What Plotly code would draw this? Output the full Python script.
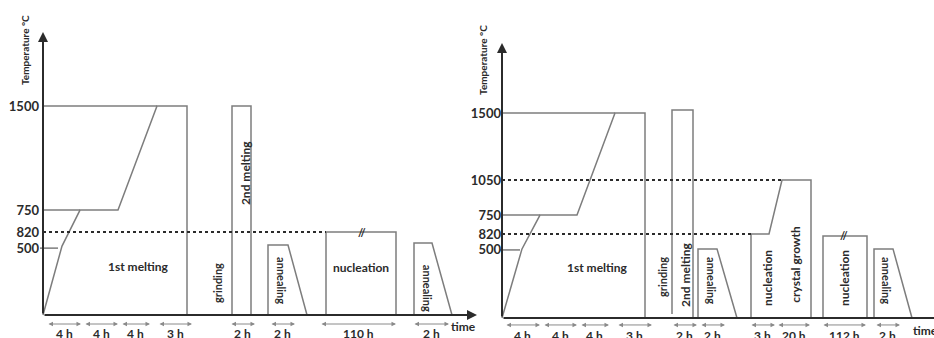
import plotly.graph_objects as go

# Schematic heat-treatment profiles (two panels).
# x = schematic time position, y = schematic temperature height (1.0 = 1500 °C level)

# ---------- left panel ----------
L_TICK_Y = [1.0, 0.502, 0.397, 0.32]
L_TICK_TEXT = ["1500", "750", "820", "500"]

L_MELT1_X = [0, 19, 37, 75, 114, 144, 144]
L_MELT1_Y = [0, 0.33, 0.502, 0.502, 1.0, 1.0, 0]
L_TOP_X, L_TOP_Y = [0, 114], [1.0, 1.0]
L_750_X, L_750_Y = [0, 37], [0.502, 0.502]
L_500_X, L_500_Y = [-3, 15], [0.32, 0.32]
L_MELT2_X, L_MELT2_Y = [189, 189, 208, 208], [0, 1.0, 1.0, 0]
L_ANN1_X, L_ANN1_Y = [225, 225, 245, 264], [0, 0.335, 0.335, 0]
L_NUC_X, L_NUC_Y = [283, 283, 353, 353], [0, 0.397, 0.397, 0]
L_ANN2_X, L_ANN2_Y = [371, 371, 389, 409], [0, 0.344, 0.344, 0]
L_DOT_X, L_DOT_Y = [0, 283], [0.397, 0.397]

L_SPAN_START = [4, 41, 78, 115, 187, 227, 277, 370]
L_SPAN_END = [38, 75, 107, 149, 212, 252, 353, 406]
L_SPAN_TEXT = ["4 h", "4 h", "4 h", "3 h", "2 h", "2 h", "110 h", "2 h"]

L_LABELS = ["1st melting", "grinding", "2nd melting", "annealing", "nucleation", "annealing", "//"]
L_LABEL_X = [95, 174, 202, 239, 318, 384, 319]
L_LABEL_Y = [0.234, 0.153, 0.679, 0.167, 0.225, 0.13, 0.397]
L_LABEL_ANGLE = [0, -90, -90, 90, 0, 90, 0]

# ---------- right panel ----------
R_TICK_Y = [1.0, 0.673, 0.502, 0.41, 0.332]
R_TICK_TEXT = ["1500", "1050", "750", "820", "500"]

R_MELT1_X = [0, 20, 38, 75, 113, 143, 143]
R_MELT1_Y = [0, 0.337, 0.502, 0.502, 1.0, 1.0, 0]
R_TOP_X, R_TOP_Y = [0, 113], [1.0, 1.0]
R_750_X, R_750_Y = [0, 38], [0.502, 0.502]
R_500_X, R_500_Y = [-2, 18], [0.332, 0.332]
R_MELT2_X, R_MELT2_Y = [170, 170, 191, 191], [0.02, 1.015, 1.015, 0]
R_ANN1_X, R_ANN1_Y = [196, 196, 215, 235], [0, 0.337, 0.337, 0]
R_GROW_X = [249, 249, 267, 280, 309, 309]
R_GROW_Y = [0, 0.41, 0.41, 0.673, 0.673, 0]
R_NUC_X, R_NUC_Y = [321, 321, 365, 365], [0, 0.40, 0.40, 0]
R_ANN2_X, R_ANN2_Y = [372, 372, 391, 410], [0, 0.337, 0.337, 0]
R_DOT1_X, R_DOT1_Y = [0, 280], [0.673, 0.673]
R_DOT2_X, R_DOT2_Y = [0, 249], [0.41, 0.41]

R_SPAN_START = [3, 41, 78, 115, 170, 198, 248, 275, 320, 373]
R_SPAN_END = [38, 75, 107, 150, 195, 223, 273, 308, 364, 398]
R_SPAN_TEXT = ["4 h", "4 h", "4 h", "3 h", "2 h", "2 h", "3 h", "20 h", "112 h", "2 h"]

R_LABELS = ["1st melting", "grinding", "2nd melting", "annealing", "nucleation",
            "crystal growth", "nucleation", "annealing", "//"]
R_LABEL_X = [95, 161, 184, 210, 265, 294, 342, 385, 342]
R_LABEL_Y = [0.244, 0.2, 0.21, 0.185, 0.195, 0.26, 0.195, 0.185, 0.40]
R_LABEL_ANGLE = [0, -90, -90, 90, -90, -90, -90, 90, 0]

INK = "#2b2b2b"
BOX = "#7d7d7d"
FONT = "Lato"

fig = go.Figure()


def add_line(x, y, xa, ya, color=BOX, width=1.5, dash="solid"):
    fig.add_trace(go.Scatter(
        x=x, y=y, xaxis=xa, yaxis=ya, mode="lines",
        line=dict(color=color, width=width, dash=dash),
        showlegend=False, hoverinfo="skip",
    ))


def add_arrow(x0, y0, x1, y1, xa, ya, both=False, width=2, color=INK, size=1.0):
    fig.add_annotation(
        x=x1, y=y1, ax=x0, ay=y0, xref=xa, yref=ya, axref=xa, ayref=ya,
        text="", showarrow=True, arrowhead=2, arrowsize=size,
        arrowwidth=width, arrowcolor=color,
        arrowside="end+start" if both else "end",
    )


def add_text(text, x, y, xa, ya, size=12, angle=0, **kw):
    fig.add_annotation(
        x=x, y=y, xref=xa, yref=ya, text=text, showarrow=False,
        textangle=angle, font=dict(family=FONT, size=size, color=INK, weight="bold"),
        **kw,
    )


panels = [
    dict(xa="x", ya="y",
         lines=[(L_MELT1_X, L_MELT1_Y), (L_TOP_X, L_TOP_Y), (L_750_X, L_750_Y),
                (L_500_X, L_500_Y), (L_MELT2_X, L_MELT2_Y), (L_ANN1_X, L_ANN1_Y),
                (L_NUC_X, L_NUC_Y), (L_ANN2_X, L_ANN2_Y)],
         dots=[(L_DOT_X, L_DOT_Y)],
         spans=(L_SPAN_START, L_SPAN_END, L_SPAN_TEXT),
         labels=(L_LABELS, L_LABEL_X, L_LABEL_Y, L_LABEL_ANGLE),
         y_top=1.354, x_end=434, time_x=420, span_y=-0.043, span_text_y=-0.09,
         time_y=-0.057, title_x=-18, title_y=1.268),
    dict(xa="x2", ya="y2",
         lines=[(R_MELT1_X, R_MELT1_Y), (R_TOP_X, R_TOP_Y), (R_750_X, R_750_Y),
                (R_500_X, R_500_Y), (R_MELT2_X, R_MELT2_Y), (R_ANN1_X, R_ANN1_Y),
                (R_GROW_X, R_GROW_Y), (R_NUC_X, R_NUC_Y), (R_ANN2_X, R_ANN2_Y)],
         dots=[(R_DOT1_X, R_DOT1_Y), (R_DOT2_X, R_DOT2_Y)],
         spans=(R_SPAN_START, R_SPAN_END, R_SPAN_TEXT),
         labels=(R_LABELS, R_LABEL_X, R_LABEL_Y, R_LABEL_ANGLE),
         y_top=1.341, x_end=445, time_x=423, span_y=-0.034, span_text_y=-0.083,
         time_y=-0.063, title_x=-19, title_y=1.259),
]

for p in panels:
    xa, ya = p["xa"], p["ya"]
    for x, y in p["lines"]:
        add_line(x, y, xa, ya)
    for x, y in p["dots"]:
        add_line(x, y, xa, ya, color=INK, width=2, dash="dot")

    # axes with arrow heads
    add_arrow(0, 0, 0, p["y_top"], xa, ya)
    add_arrow(0, 0, p["x_end"], 0, xa, ya)

    starts, ends, texts = p["spans"]
    for s, e, t in zip(starts, ends, texts):
        add_arrow(s, p["span_y"], e, p["span_y"], xa, ya, both=True, width=1,
                  color="#8a8a8a", size=0.9)
        add_text(t, (s + e) / 2, p["span_text_y"], xa, ya, size=12)

    for t, x, y, a in zip(*p["labels"]):
        sz = 12 if t in ("1st melting", "nucleation", "crystal growth", "2nd melting") else 11
        add_text(t, x, y, xa, ya, size=sz, angle=a)

    add_text("time", p["time_x"], p["time_y"], xa, ya, size=12)
    add_text("Temperature °C", p["title_x"], p["title_y"], xa, ya, size=10, angle=-90)

axis_common = dict(showgrid=False, zeroline=False, showline=False, ticks="")
tickfont = dict(family=FONT, size=13, color=INK, weight="bold")

fig.update_layout(
    width=934, height=338,
    margin=dict(l=0, r=0, t=0, b=0, pad=0),
    paper_bgcolor="white", plot_bgcolor="rgba(0,0,0,0)",
    showlegend=False,
    xaxis=dict(domain=[3 / 934, 480 / 934], range=[-40, 437],
               showticklabels=False, **axis_common),
    yaxis=dict(anchor="free", position=43 / 934, range=[-0.110, 1.5072],
               tickvals=L_TICK_Y, ticktext=L_TICK_TEXT, tickfont=tickfont,
               ticklabelstandoff=4, **axis_common),
    xaxis2=dict(domain=[463 / 934, 1], range=[-39, 432],
                showticklabels=False, **axis_common),
    yaxis2=dict(anchor="free", position=502 / 934, range=[-0.0976, 1.5512],
                tickvals=R_TICK_Y, ticktext=R_TICK_TEXT, tickfont=tickfont,
                ticklabelstandoff=1, **axis_common),
)

# page body has a default margin; drop it so the figure sits at the window origin
fig.write_html("out.html", config={"displayModeBar": False},
               post_script="document.body.style.margin='0';")
